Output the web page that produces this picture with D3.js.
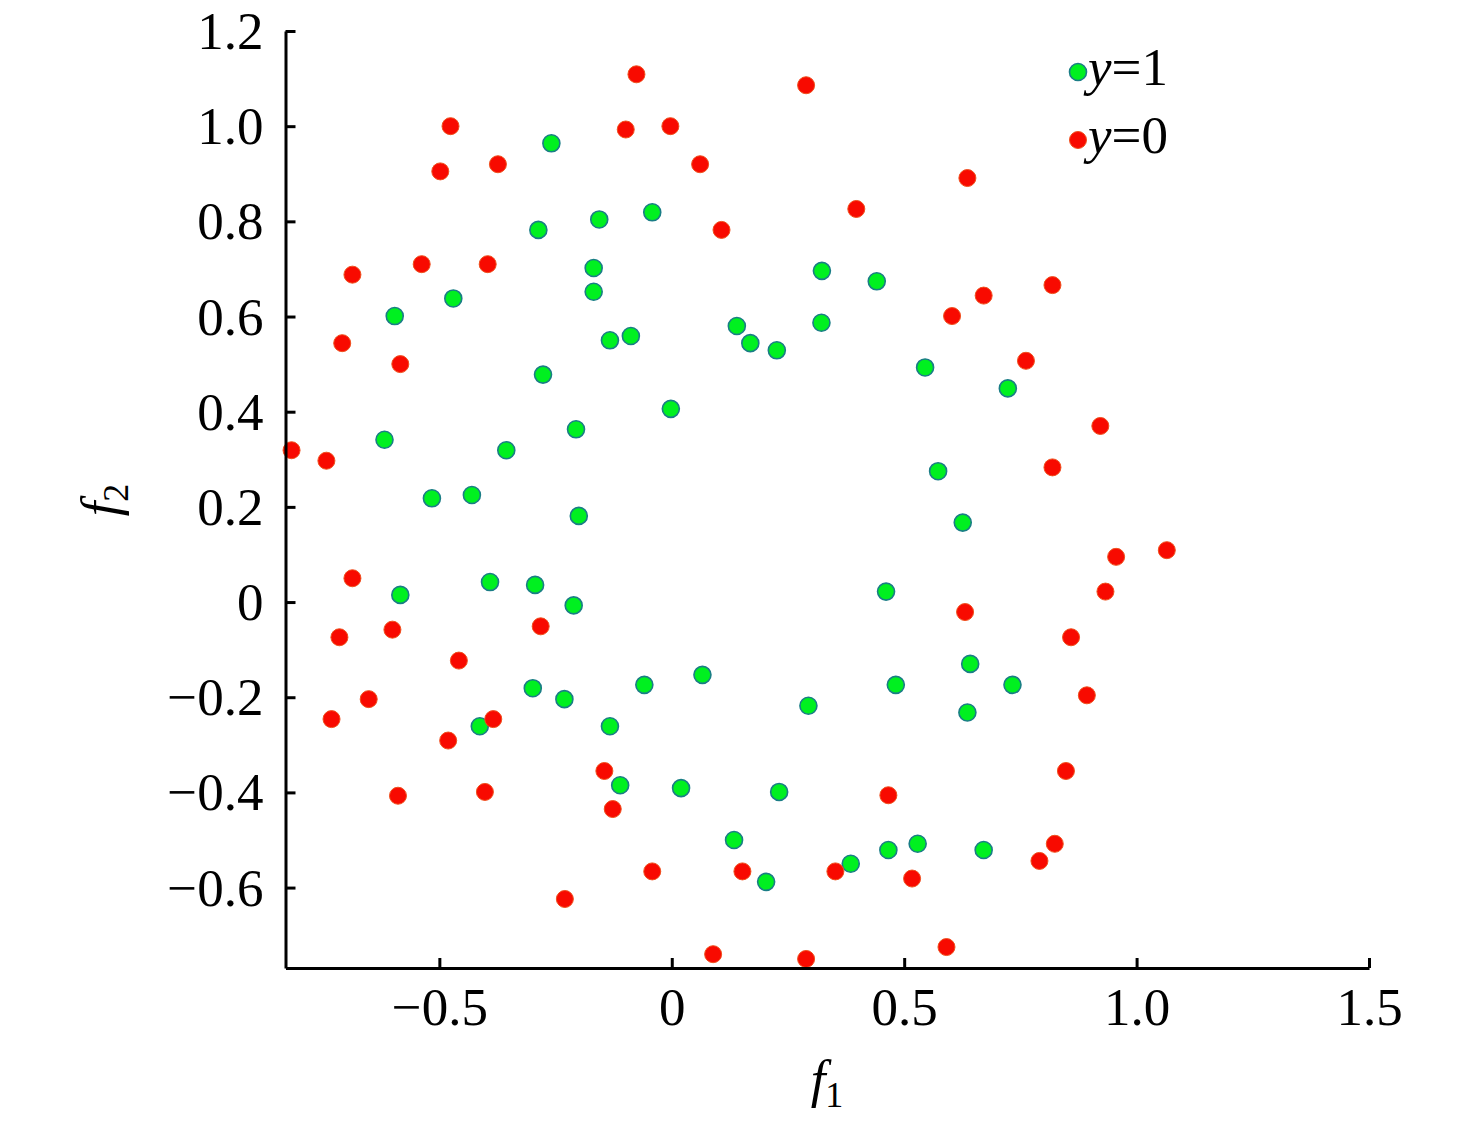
<!DOCTYPE html>
<html lang="en">

<head>
  <meta charset="UTF-8">
  <title>f1 - f2 scatter</title>
  <script type="text/javascript" src="https://d3js.org/d3.v7.min.js"></script>
  <style>
    body { margin: 0; background: #fff; }
    text { font-family: "Liberation Serif", "Times New Roman", serif; }
  </style>
</head>

<body>
  <svg width="1476" height="1127"></svg>
</body>

<script>

  // y = 1 points
  const posF1 = [-0.259, -0.156, -0.042, -0.287, -0.168, -0.168, -0.470, -0.596, -0.133, -0.088,
    -0.277, -0.002, -0.618, -0.356, -0.206, -0.516, -0.430, -0.200, -0.584, -0.391,
    -0.294, -0.211, -0.299, -0.231, -0.059, 0.066, -0.133, -0.413, -0.111, 0.020,
    0.140, 0.169, 0.226, 0.323, 0.322, 0.441, 0.545, 0.723, 0.573, 0.626,
    0.461, 0.642, 0.482, 0.733, 0.636, 0.294, 0.231, 0.134, 0.203, 0.385,
    0.466, 0.529, 0.671]
  const posF2 = [0.964, 0.804, 0.819, 0.782, 0.702, 0.652, 0.638, 0.601, 0.550, 0.559,
    0.478, 0.406, 0.341, 0.319, 0.363, 0.218, 0.225, 0.181, 0.015, 0.042,
    0.036, -0.007, -0.181, -0.204, -0.174, -0.153, -0.261, -0.261, -0.385, -0.391,
    0.580, 0.544, 0.529, 0.696, 0.587, 0.674, 0.493, 0.449, 0.275, 0.167,
    0.022, -0.130, -0.174, -0.174, -0.232, -0.218, -0.399, -0.500, -0.588, -0.550,
    -0.521, -0.508, -0.521]

  // y = 0 points
  const negF1 = [-0.076, 0.289, -0.476, -0.003, -0.099, -0.374, 0.061, -0.498, 0.636, 0.397,
    0.107, -0.538, -0.396, -0.687, 0.819, 0.671, 0.603, -0.709, -0.584, 0.762,
    0.922, -0.818, -0.743, 0.819, 1.065, 0.956, -0.687, 0.933, 0.631, -0.601,
    -0.282, -0.715, 0.859, -0.458, -0.652, 0.893, -0.732, -0.384, -0.481, -0.145,
    0.848, -0.589, -0.402, 0.466, -0.127, 0.824, 0.791, -0.042, 0.152, 0.352,
    0.517, -0.230, 0.591, 0.089, 0.289]
  const negF2 = [1.109, 1.086, 1.000, 1.000, 0.993, 0.920, 0.920, 0.905, 0.891, 0.826,
    0.782, 0.710, 0.710, 0.688, 0.666, 0.644, 0.601, 0.544, 0.500, 0.507,
    0.370, 0.319, 0.297, 0.283, 0.109, 0.095, 0.050, 0.022, -0.021, -0.058,
    -0.051, -0.074, -0.074, -0.123, -0.204, -0.196, -0.246, -0.246, -0.291, -0.355,
    -0.355, -0.407, -0.399, -0.406, -0.435, -0.508, -0.544, -0.566, -0.566, -0.566,
    -0.581, -0.624, -0.725, -0.740, -0.750]

  const xTicks = [-0.5, 0, 0.5, 1.0, 1.5]
  const xTickLabels = ["\u22120.5", "0", "0.5", "1.0", "1.5"]
  const yTicks = [-0.6, -0.4, -0.2, 0, 0.2, 0.4, 0.6, 0.8, 1.0, 1.2]
  const yTickLabels = ["\u22120.6", "\u22120.4", "\u22120.2", "0", "0.2", "0.4", "0.6", "0.8", "1.0", "1.2"]

  const legendLabels = ["1", "0"]

  const svg = d3.select("svg")
  const fontSize = 53

  const margin = { left: 285.5, top: 31, right: 1476 - 1369, bottom: 1127 - 968 }

  const x = d3.scaleLinear()
    .domain([-0.831, 1.5])
    .range([margin.left, 1476 - margin.right])

  const y = d3.scaleLinear()
    .domain([-0.769, 1.2])
    .range([1127 - margin.bottom, margin.top])

  const posData = posF1.map((v, i) => ({ f1: v, f2: posF2[i] }))
  const negData = negF1.map((v, i) => ({ f1: v, f2: negF2[i] }))

  const greenFill = "#00f020"
  const greenStroke = "#1a7d86"
  const redFill = "#f80a00"
  const redStroke = "#f0501e"
  const r = 8.5

  // points
  svg.append("g")
    .selectAll("circle")
    .data(posData)
    .join("circle")
    .attr("cx", d => x(d.f1))
    .attr("cy", d => y(d.f2))
    .attr("r", r)
    .attr("fill", greenFill)
    .attr("stroke", greenStroke)
    .attr("stroke-width", 1.6)

  svg.append("g")
    .selectAll("circle")
    .data(negData)
    .join("circle")
    .attr("cx", d => x(d.f1))
    .attr("cy", d => y(d.f2))
    .attr("r", r)
    .attr("fill", redFill)
    .attr("stroke", redStroke)
    .attr("stroke-width", 1)

  // axes (ticks pointing inward)
  const xAxis = d3.axisBottom(x)
    .tickValues(xTicks)
    .tickFormat((d, i) => xTickLabels[i])
    .tickSizeInner(-10)
    .tickSizeOuter(0)
    .tickPadding(19)

  const yAxis = d3.axisLeft(y)
    .tickValues(yTicks)
    .tickFormat((d, i) => yTickLabels[i])
    .tickSizeInner(-10)
    .tickSizeOuter(0)
    .tickPadding(22)

  const gx = svg.append("g")
    .attr("transform", "translate(0," + y.range()[0] + ")")
    .call(xAxis)

  const gy = svg.append("g")
    .attr("transform", "translate(" + x.range()[0] + ",0)")
    .call(yAxis)

  for (const g of [gx, gy]) {
    g.select(".domain").attr("stroke", "#000").attr("stroke-width", 3)
    g.selectAll(".tick line").attr("stroke", "#000").attr("stroke-width", 3)
    g.selectAll(".tick text")
      .attr("fill", "#000")
      .attr("font-size", fontSize + "px")
      .attr("font-family", "Liberation Serif, Times New Roman, serif")
  }
  gy.selectAll(".tick text").attr("dy", "0.33em")

  // axis titles
  const xTitle = svg.append("text")
    .attr("x", 827)
    .attr("y", 1097)
    .attr("text-anchor", "middle")
    .attr("font-size", fontSize + "px")
  xTitle.append("tspan").attr("font-style", "italic").text("f")
  xTitle.append("tspan").attr("font-size", "36px").attr("dy", 10).text("1")

  const yTitle = svg.append("text")
    .attr("transform", "translate(118,500) rotate(-90)")
    .attr("text-anchor", "middle")
    .attr("font-size", fontSize + "px")
  yTitle.append("tspan").attr("font-style", "italic").text("f")
  yTitle.append("tspan").attr("font-size", "36px").attr("dy", 10).text("2")

  // legend
  const legend = svg.append("g")
  const legendItems = [
    { label: legendLabels[0], fill: greenFill, stroke: greenStroke, sw: 1.6, cy: 72 },
    { label: legendLabels[1], fill: redFill, stroke: redStroke, sw: 1, cy: 140 }
  ]
  legendItems.forEach(item => {
    legend.append("circle")
      .attr("cx", 1078)
      .attr("cy", item.cy)
      .attr("r", 8.5)
      .attr("fill", item.fill)
      .attr("stroke", item.stroke)
      .attr("stroke-width", item.sw)
    const t = legend.append("text")
      .attr("x", 1088)
      .attr("y", item.cy + 13)
      .attr("font-size", fontSize + "px")
    t.append("tspan").attr("font-style", "italic").text("y")
    t.append("tspan").text("=" + item.label)
  })

</script>

</html>
